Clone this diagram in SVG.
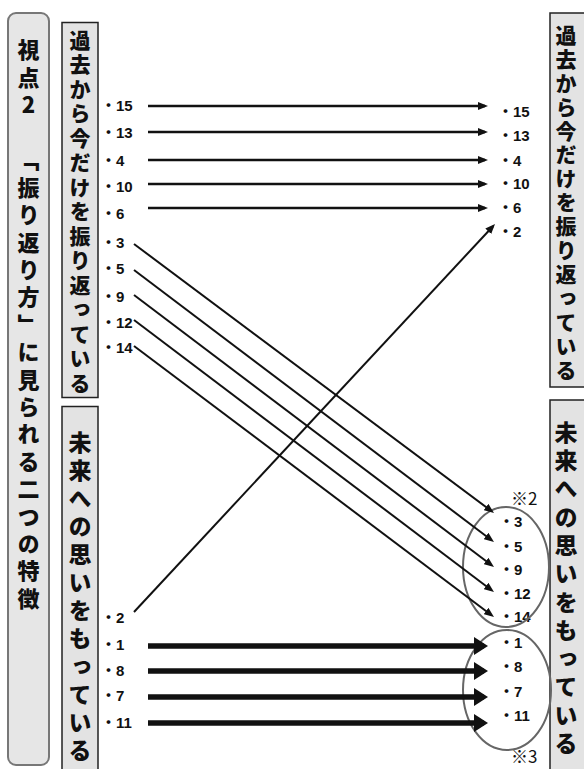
<svg xmlns="http://www.w3.org/2000/svg" width="584" height="769" viewBox="0 0 584 769">
<defs>
<marker id="ah" markerUnits="userSpaceOnUse" markerWidth="10" markerHeight="8" refX="7" refY="4" orient="auto"><path d="M0,0 L10,4 L0,8 z" fill="#111"/></marker>
<marker id="ahb" markerUnits="userSpaceOnUse" markerWidth="14" markerHeight="18" refX="9.7" refY="9" orient="auto"><path d="M0,0 L14,9 L0,18 z" fill="#111"/></marker>
</defs>
<style>
.box{fill:#e3e3e3;stroke:#222;stroke-width:1.5}
.rbox{fill:#e6e6e6;stroke:#777;stroke-width:2}
.vt{font-family:"Noto Sans CJK JP",sans-serif;font-weight:900;fill:#111;writing-mode:vertical-rl;text-orientation:upright}
.lb{font-family:"Liberation Sans","Noto Sans CJK JP",sans-serif;font-size:15px;font-weight:700;fill:#111}
.nt{font-family:"Noto Sans CJK JP",sans-serif;font-size:17px;fill:#111}
.thin{stroke:#111;stroke-width:2.5;fill:none;marker-end:url(#ah)}
.diag{stroke:#111;stroke-width:2;fill:none;marker-end:url(#ah)}
.thick{stroke:#111;stroke-width:5.5;fill:none;marker-end:url(#ahb)}
.ell{fill:none;stroke:#666;stroke-width:2}
</style>
<rect width="584" height="769" fill="#fff"/>

<g id="title">
<rect class="rbox" x="8" y="13" width="41" height="752" rx="8"/>
<text class="vt" x="28.5" y="39" style="font-size:22px;letter-spacing:5.4px">視点2</text>
<text class="vt" x="28.5" y="149" style="font-size:22px;letter-spacing:5.4px">「振り返り方」に見られる二つの特徴</text>
</g>

<g id="left-past">
<rect class="box" x="62" y="22.5" width="36" height="375"/>
<text class="vt" x="80" y="29.5" style="font-size:21px;letter-spacing:3.5px">過去から今だけを振り返っている</text>
</g>

<g id="left-future">
<rect class="box" x="62" y="406.5" width="36" height="370"/>
<text class="vt" x="80" y="430.5" style="font-size:23px;letter-spacing:5px">未来への思いをもっている</text>
</g>

<g id="right-past">
<rect class="box" x="550" y="13" width="40" height="374"/>
<text class="vt" x="566" y="24.5" style="font-size:21px;letter-spacing:2.9px">過去から今だけを振り返っている</text>
</g>

<g id="right-future">
<rect class="box" x="550" y="400" width="40" height="380"/>
<text class="vt" x="566" y="420.5" style="font-size:23px;letter-spacing:5.3px">未来への思いをもっている</text>
</g>

<g id="left-labels">
<text class="lb" x="101" y="111">・15</text>
<text class="lb" x="101" y="138">・13</text>
<text class="lb" x="101" y="166">・4</text>
<text class="lb" x="101" y="192">・10</text>
<text class="lb" x="101" y="219">・6</text>
<text class="lb" x="101" y="248">・3</text>
<text class="lb" x="101" y="274">・5</text>
<text class="lb" x="101" y="302">・9</text>
<text class="lb" x="101" y="328">・12</text>
<text class="lb" x="101" y="353">・14</text>
<text class="lb" x="101" y="623">・2</text>
<text class="lb" x="101" y="650">・1</text>
<text class="lb" x="101" y="676">・8</text>
<text class="lb" x="101" y="701">・7</text>
<text class="lb" x="101" y="728">・11</text>
</g>

<g id="right-labels">
<text class="lb" x="498" y="117">・15</text>
<text class="lb" x="498" y="141">・13</text>
<text class="lb" x="498" y="166">・4</text>
<text class="lb" x="498" y="189">・10</text>
<text class="lb" x="498" y="213">・6</text>
<text class="lb" x="498" y="237">・2</text>
<text class="lb" x="499" y="527">・3</text>
<text class="lb" x="499" y="552">・5</text>
<text class="lb" x="499" y="575">・9</text>
<text class="lb" x="499" y="599">・12</text>
<text class="lb" x="499" y="622">・14</text>
<text class="lb" x="499" y="648">・1</text>
<text class="lb" x="499" y="672">・8</text>
<text class="lb" x="499" y="697">・7</text>
<text class="lb" x="499" y="721">・11</text>
</g>

<g id="groups">
<ellipse class="ell" cx="506" cy="567" rx="43" ry="60"/>
<ellipse class="ell" cx="507" cy="690" rx="44" ry="60"/>
<text class="nt" x="511" y="505">※2</text>
<text class="nt" x="511" y="763">※3</text>
</g>

<g id="connectors">
<line class="thin" x1="148" y1="106" x2="485" y2="106"/>
<line class="thin" x1="148" y1="132" x2="485" y2="132"/>
<line class="thin" x1="148" y1="160" x2="485" y2="160"/>
<line class="thin" x1="148" y1="184" x2="485" y2="184"/>
<line class="thin" x1="148" y1="208" x2="485" y2="208"/>
<line class="diag" x1="134" y1="244" x2="491.6" y2="511.2"/>
<line class="diag" x1="134" y1="270" x2="491.6" y2="540.2"/>
<line class="diag" x1="134" y1="295" x2="491.6" y2="565.2"/>
<line class="diag" x1="134" y1="320" x2="491.6" y2="590.2"/>
<line class="diag" x1="134" y1="346" x2="491.6" y2="615.2"/>
<line class="diag" x1="134" y1="612" x2="493" y2="226.2"/>
<line class="thick" x1="148" y1="646" x2="483.7" y2="646"/>
<line class="thick" x1="148" y1="671" x2="483.7" y2="671"/>
<line class="thick" x1="148" y1="697" x2="483.7" y2="697"/>
<line class="thick" x1="148" y1="723" x2="483.7" y2="723"/>
</g>
</svg>
